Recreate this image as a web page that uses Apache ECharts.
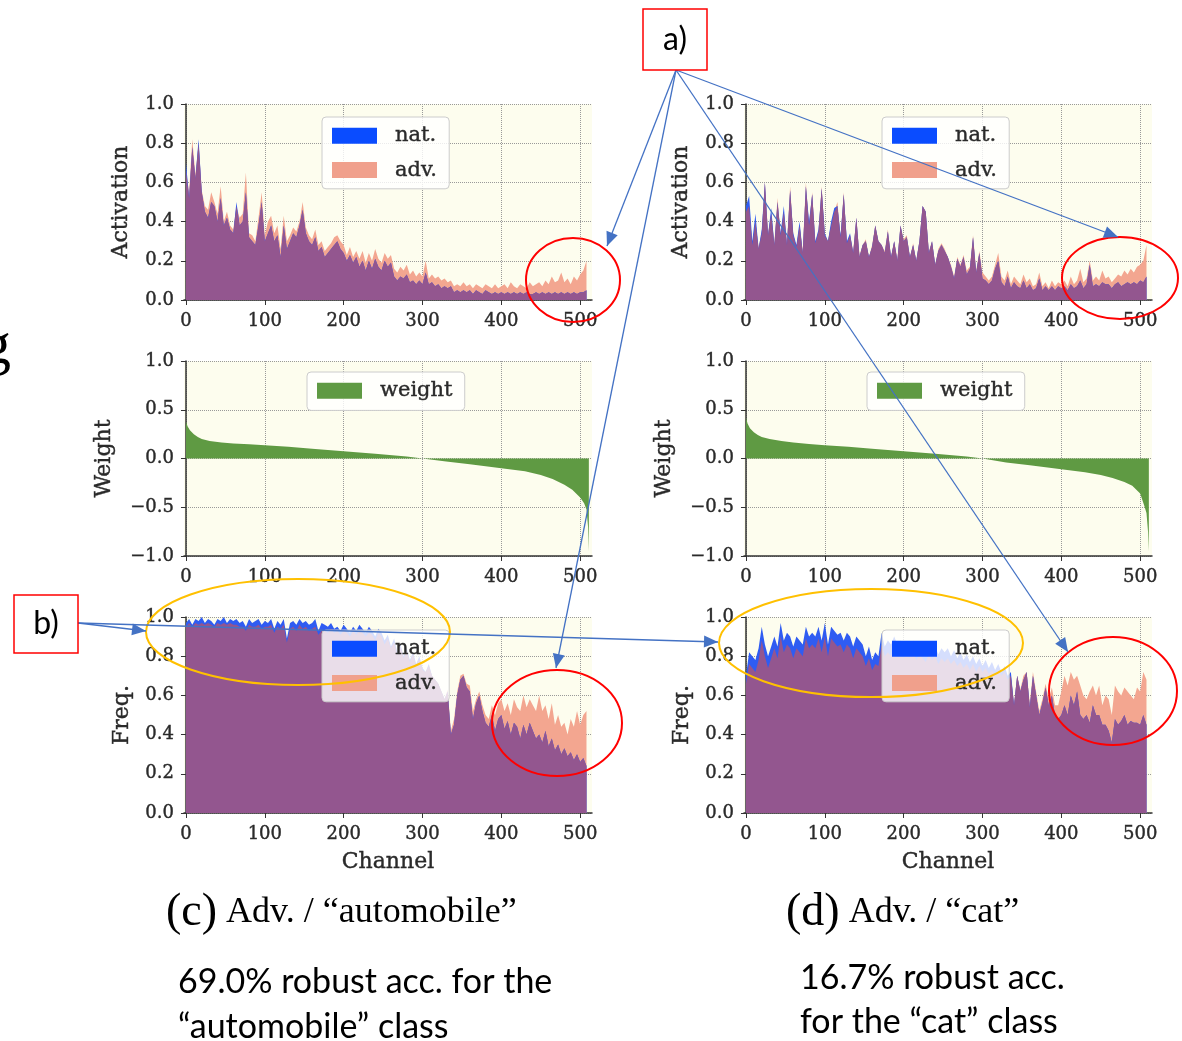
<!DOCTYPE html>
<html><head><meta charset="utf-8">
<script src="https://cdn.jsdelivr.net/npm/echarts@6/dist/echarts.min.js"></script>
<style>html,body{margin:0;padding:0;background:#fff;}#c{width:1182px;height:1041px;}</style>
</head><body><div id="c"></div>
<script>
// channel positions (every 4th channel of 512)
const CHANNELS = Array.from({length: 128}, (_, i) => i * 4);
const X_TICKS = [0, 100, 200, 300, 400, 500];

// (c) automobile — activation
const ACT_L_NAT = [
0.70,0.52,0.78,0.62,0.82,0.55,0.45,0.42,0.50,0.48,0.40,0.52,0.38,0.42,0.36,0.34,
0.50,0.38,0.40,0.55,0.32,0.30,0.28,0.38,0.50,0.30,0.34,0.38,0.30,0.33,0.22,0.38,
0.26,0.30,0.34,0.32,0.38,0.46,0.34,0.30,0.28,0.32,0.25,0.27,0.22,0.24,0.26,0.28,
0.30,0.26,0.24,0.20,0.23,0.19,0.22,0.17,0.20,0.15,0.20,0.16,0.21,0.17,0.15,0.20,
0.17,0.19,0.12,0.10,0.12,0.11,0.13,0.09,0.10,0.08,0.10,0.08,0.14,0.08,0.09,0.07,
0.08,0.06,0.07,0.06,0.07,0.04,0.05,0.04,0.05,0.04,0.05,0.03,0.05,0.04,0.03,0.05,
0.04,0.03,0.04,0.03,0.04,0.03,0.04,0.03,0.04,0.03,0.04,0.03,0.04,0.03,0.03,0.04,
0.03,0.04,0.03,0.04,0.03,0.04,0.03,0.04,0.03,0.04,0.03,0.04,0.03,0.04,0.04,0.05];
const ACT_L_ADV = [
0.66,0.55,0.82,0.64,0.80,0.56,0.48,0.46,0.55,0.50,0.44,0.58,0.40,0.45,0.38,0.36,
0.48,0.42,0.44,0.65,0.34,0.33,0.30,0.42,0.55,0.33,0.40,0.43,0.34,0.38,0.26,0.43,
0.30,0.33,0.37,0.35,0.40,0.50,0.37,0.33,0.31,0.36,0.28,0.30,0.25,0.27,0.29,0.32,
0.33,0.30,0.28,0.23,0.27,0.22,0.25,0.21,0.25,0.19,0.24,0.20,0.26,0.21,0.19,0.24,
0.21,0.23,0.16,0.14,0.17,0.15,0.18,0.13,0.15,0.12,0.14,0.12,0.20,0.11,0.13,0.11,
0.12,0.10,0.11,0.09,0.10,0.07,0.08,0.07,0.09,0.07,0.08,0.06,0.08,0.07,0.06,0.08,
0.07,0.06,0.08,0.06,0.07,0.08,0.06,0.09,0.07,0.06,0.08,0.07,0.06,0.09,0.07,0.08,
0.09,0.07,0.10,0.08,0.12,0.09,0.10,0.14,0.09,0.11,0.08,0.12,0.10,0.13,0.15,0.20];

// (d) cat — activation
const ACT_R_NAT = [
0.48,0.53,0.30,0.44,0.26,0.36,0.60,0.33,0.47,0.28,0.50,0.34,0.48,0.28,0.56,0.34,
0.28,0.40,0.24,0.58,0.40,0.54,0.30,0.36,0.57,0.34,0.30,0.40,0.47,0.48,0.33,0.54,
0.30,0.34,0.24,0.42,0.22,0.28,0.30,0.22,0.27,0.38,0.30,0.28,0.24,0.35,0.22,0.30,
0.20,0.38,0.30,0.32,0.22,0.28,0.20,0.30,0.48,0.45,0.24,0.30,0.18,0.25,0.28,0.25,
0.22,0.17,0.11,0.21,0.17,0.22,0.13,0.16,0.32,0.14,0.24,0.11,0.10,0.08,0.10,0.16,
0.20,0.09,0.07,0.12,0.06,0.09,0.07,0.06,0.10,0.06,0.08,0.05,0.06,0.11,0.05,0.07,
0.05,0.07,0.05,0.07,0.06,0.07,0.05,0.08,0.06,0.07,0.10,0.06,0.08,0.18,0.07,0.08,
0.07,0.09,0.08,0.08,0.06,0.08,0.09,0.07,0.08,0.09,0.08,0.09,0.08,0.10,0.09,0.12];
const ACT_R_ADV = [
0.45,0.48,0.28,0.40,0.27,0.34,0.60,0.34,0.44,0.29,0.52,0.33,0.45,0.29,0.58,0.33,
0.27,0.38,0.25,0.60,0.38,0.55,0.29,0.35,0.58,0.33,0.30,0.38,0.45,0.50,0.32,0.55,
0.29,0.33,0.25,0.42,0.23,0.28,0.31,0.22,0.28,0.38,0.30,0.28,0.25,0.36,0.22,0.30,
0.21,0.38,0.31,0.33,0.22,0.29,0.20,0.30,0.48,0.45,0.25,0.30,0.18,0.26,0.29,0.26,
0.22,0.18,0.12,0.22,0.18,0.23,0.15,0.17,0.33,0.15,0.25,0.14,0.12,0.10,0.12,0.18,
0.24,0.12,0.10,0.15,0.08,0.12,0.10,0.08,0.13,0.09,0.11,0.07,0.08,0.14,0.07,0.09,
0.06,0.10,0.07,0.09,0.08,0.10,0.07,0.12,0.08,0.10,0.16,0.09,0.11,0.20,0.10,0.12,
0.10,0.15,0.11,0.12,0.09,0.11,0.13,0.12,0.15,0.13,0.16,0.14,0.17,0.18,0.20,0.28];

// sorted classifier weights
const WEIGHT_CH = [0,2,5,10,15,20,30,45,60,80,100,130,160,200,240,280,300,330,360,400,430,450,465,480,490,500,505,508,510,511];
const WEIGHT_L = [0.38,0.33,0.29,0.25,0.22,0.20,0.18,0.165,0.155,0.145,0.135,0.12,0.10,0.075,0.05,0.02,0.0,-0.03,-0.06,-0.10,-0.13,-0.17,-0.21,-0.27,-0.32,-0.40,-0.46,-0.52,-0.70,-0.95];
const WEIGHT_R = [0.42,0.36,0.31,0.27,0.24,0.22,0.20,0.18,0.165,0.15,0.135,0.12,0.10,0.075,0.05,0.02,0.0,-0.04,-0.07,-0.11,-0.14,-0.17,-0.20,-0.24,-0.28,-0.36,-0.48,-0.56,-0.75,-0.95];

// activation frequency
const FREQ_L_NAT = [
0.97,0.99,0.96,0.99,0.98,1.00,0.97,0.99,0.98,0.96,0.99,0.98,1.00,0.97,0.99,0.98,
0.99,0.97,0.98,0.95,0.99,0.97,0.98,0.99,0.96,0.98,0.97,0.99,0.94,0.98,0.96,0.99,
0.89,0.97,0.98,0.96,0.99,0.97,0.98,0.96,0.97,0.99,0.93,0.97,0.96,0.95,0.97,0.94,
0.95,0.93,0.96,0.94,0.92,0.95,0.93,0.96,0.94,0.92,0.95,0.93,0.90,0.94,0.92,0.88,
0.91,0.85,0.89,0.82,0.86,0.80,0.84,0.78,0.82,0.76,0.80,0.74,0.72,0.76,0.70,0.68,
0.66,0.62,0.58,0.62,0.40,0.45,0.60,0.68,0.70,0.64,0.62,0.48,0.56,0.60,0.52,0.46,
0.44,0.50,0.42,0.48,0.50,0.43,0.47,0.40,0.46,0.44,0.38,0.45,0.40,0.46,0.42,0.38,
0.40,0.36,0.42,0.34,0.38,0.32,0.35,0.30,0.33,0.29,0.31,0.27,0.30,0.26,0.28,0.24];
const FREQ_L_ADV = [
0.95,0.97,0.95,0.97,0.96,0.97,0.96,0.97,0.96,0.95,0.97,0.96,0.97,0.96,0.97,0.96,
0.96,0.95,0.95,0.93,0.96,0.95,0.95,0.96,0.94,0.95,0.95,0.96,0.92,0.95,0.94,0.96,
0.87,0.94,0.95,0.93,0.96,0.94,0.95,0.93,0.94,0.95,0.91,0.93,0.93,0.92,0.94,0.92,
0.93,0.91,0.93,0.92,0.90,0.93,0.91,0.93,0.92,0.90,0.92,0.91,0.88,0.92,0.90,0.86,
0.89,0.84,0.87,0.81,0.85,0.79,0.83,0.77,0.81,0.75,0.79,0.73,0.72,0.75,0.70,0.68,
0.66,0.62,0.58,0.63,0.42,0.48,0.62,0.70,0.71,0.66,0.65,0.52,0.58,0.62,0.55,0.50,
0.48,0.55,0.50,0.56,0.58,0.52,0.56,0.50,0.58,0.54,0.52,0.60,0.54,0.58,0.55,0.52,
0.60,0.52,0.55,0.48,0.56,0.45,0.50,0.44,0.46,0.40,0.48,0.44,0.52,0.45,0.50,0.52];
const FREQ_R_NAT = [
0.70,0.82,0.80,0.78,0.84,0.95,0.86,0.80,0.85,0.90,0.85,0.97,0.88,0.92,0.90,0.85,
0.90,0.88,0.86,0.95,0.90,0.92,0.90,0.95,0.88,0.97,0.86,0.95,0.93,0.91,0.92,0.88,
0.92,0.90,0.85,0.90,0.88,0.86,0.80,0.85,0.78,0.82,0.80,0.92,0.85,0.88,0.86,0.90,
0.86,0.88,0.84,0.87,0.85,0.88,0.83,0.86,0.84,0.82,0.86,0.83,0.85,0.81,0.84,0.82,
0.84,0.80,0.83,0.79,0.82,0.78,0.81,0.77,0.80,0.76,0.79,0.75,0.78,0.74,0.77,0.73,
0.76,0.72,0.75,0.70,0.72,0.55,0.70,0.62,0.68,0.72,0.54,0.70,0.60,0.50,0.56,0.64,
0.55,0.60,0.50,0.48,0.50,0.55,0.50,0.60,0.55,0.62,0.50,0.48,0.50,0.46,0.55,0.50,
0.50,0.45,0.45,0.42,0.36,0.48,0.45,0.47,0.50,0.45,0.47,0.46,0.46,0.45,0.50,0.45];
const FREQ_R_ADV = [
0.66,0.76,0.74,0.72,0.78,0.88,0.80,0.74,0.79,0.84,0.79,0.90,0.82,0.86,0.84,0.79,
0.84,0.82,0.80,0.89,0.84,0.86,0.84,0.89,0.82,0.90,0.80,0.89,0.87,0.85,0.86,0.82,
0.86,0.84,0.79,0.84,0.82,0.80,0.75,0.79,0.73,0.76,0.75,0.86,0.80,0.82,0.80,0.84,
0.81,0.83,0.79,0.82,0.80,0.83,0.78,0.81,0.79,0.77,0.81,0.78,0.80,0.76,0.79,0.77,
0.79,0.76,0.78,0.75,0.77,0.74,0.76,0.73,0.76,0.72,0.75,0.72,0.74,0.71,0.73,0.70,
0.73,0.70,0.72,0.68,0.70,0.56,0.70,0.63,0.70,0.72,0.56,0.72,0.62,0.52,0.58,0.66,
0.58,0.64,0.55,0.55,0.62,0.70,0.65,0.72,0.68,0.70,0.65,0.60,0.58,0.62,0.65,0.60,
0.65,0.55,0.60,0.58,0.50,0.65,0.62,0.60,0.64,0.62,0.60,0.58,0.64,0.62,0.72,0.68];

const NAT_C = '#2f5cf2', ADV_C = '#f3a690', MIX_C = '#93568f', W_C = '#5f9a43';
const BG = '#fdfdee';
const SERIF = '"DejaVu Serif", serif';
const TXT = '#2a2a2a';
const MINUS = v => (v < 0 ? '\u2212' : '') + Math.abs(v).toFixed(1);

const GRIDS = [
  {left:184, top:104, width:408, height:196},
  {left:744, top:104, width:408, height:196},
  {left:184, top:361, width:408, height:195},
  {left:744, top:361, width:408, height:195},
  {left:184, top:617, width:408, height:196},
  {left:744, top:617, width:408, height:196}
];
const YRANGE = [[0,1,0.2],[0,1,0.2],[-1,1,0.5],[-1,1,0.5],[0,1,0.2],[0,1,0.2]];
const YNAME = ['Activation','Activation','Weight','Weight','Freq.','Freq.'];
const YGAP = [52,52,69,69,51,51];
const LBL = {fontFamily:SERIF, fontSize:18, color:TXT, textBorderColor:TXT, textBorderWidth:0.4};
const NAMESTYLE = {fontFamily:SERIF, fontSize:22, color:TXT, textBorderColor:TXT, textBorderWidth:0.4};

const grid = GRIDS.map(g => Object.assign({show:true, backgroundColor:BG, borderWidth:0}, g));
const xAxis = GRIDS.map((g, i) => ({
  type:'value', gridIndex:i, min:-2.5, max:515,
  name: i >= 4 ? 'Channel' : '', nameLocation:'middle', nameGap:38,
  nameTextStyle:NAMESTYLE,
  axisLine:{show:true, onZero:false, lineStyle:{color:'#333', width:1.5}},
  axisTick:{show:true, customValues:X_TICKS, length:5, lineStyle:{color:'#333'}},
  axisLabel:Object.assign({customValues:X_TICKS, margin:12}, LBL),
  splitLine:{show:true, lineStyle:{type:'dotted', color:'#999', width:1}}
}));
const yAxis = GRIDS.map((g, i) => ({
  type:'value', gridIndex:i, min:YRANGE[i][0], max:YRANGE[i][1], interval:YRANGE[i][2],
  name:YNAME[i], nameLocation:'middle', nameGap:YGAP[i], nameRotate:90,
  nameTextStyle:NAMESTYLE,
  axisLine:{show:true, lineStyle:{color:'#333', width:1.5}},
  axisTick:{show:true, length:5, lineStyle:{color:'#333'}},
  axisLabel:Object.assign({formatter:MINUS, margin:10}, LBL),
  splitLine:{show:true, lineStyle:{type:'dotted', color:'#999', width:1}}
}));

function area(name, idx, xs, ys, color, z) {
  return {
    type:'line', name, xAxisIndex:idx, yAxisIndex:idx,
    data: xs.map((x, k) => [x, ys[k]]),
    showSymbol:false, symbol:'none', silent:true, z,
    lineStyle:{width:0, color}, itemStyle:{color},
    areaStyle:{color, opacity:1}
  };
}
const PAIRS = [
  [0, ACT_L_NAT, ACT_L_ADV], [1, ACT_R_NAT, ACT_R_ADV],
  [4, FREQ_L_NAT, FREQ_L_ADV], [5, FREQ_R_NAT, FREQ_R_ADV]
];
const series = [];
PAIRS.forEach(([idx, nat, adv]) => {
  series.push(area('adv.', idx, CHANNELS, adv, ADV_C, 1));
  series.push(area('nat.', idx, CHANNELS, nat, NAT_C, 2));
  series.push(area('both', idx, CHANNELS, nat.map((v, k) => Math.min(v, adv[k])), MIX_C, 3));
});
series.push(area('weight', 2, WEIGHT_CH, WEIGHT_L, W_C, 2));
series.push(area('weight', 3, WEIGHT_CH, WEIGHT_R, W_C, 2));

function lg(left, top, names, pad) {
  return {
    left, top, orient:'vertical', selectedMode:false, z:50,
    data: names.map(n => ({name:n, icon:'rect',
      itemStyle:{color: n === 'nat.' ? '#0a4cff' : n === 'adv.' ? '#f0a08c' : W_C}})),
    itemWidth:45, itemHeight:16, itemGap:13, padding:pad,
    backgroundColor:'rgba(255,255,255,0.8)', borderColor:'#cccccc', borderWidth:1, borderRadius:4,
    textStyle:{fontFamily:SERIF, fontSize:21, color:TXT, textBorderColor:TXT, textBorderWidth:0.4, padding:[0,0,0,13]}
  };
}
const legend = [
  lg(322, 117, ['nat.','adv.'], [8,12,8,10]),
  lg(882, 117, ['nat.','adv.'], [8,12,8,10]),
  lg(307, 372, ['weight'], [8,12,9,10]),
  lg(867, 372, ['weight'], [8,12,9,10]),
  lg(322, 630, ['nat.','adv.'], [8,12,8,10]),
  lg(882, 630, ['nat.','adv.'], [8,12,8,10])
];

// annotation overlay
const ARROW_C = '#4472c4';
function arrow(x1, y1, x2, y2, head) {
  const out = [{type:'line', z:100, shape:{x1, y1, x2, y2}, style:{stroke:ARROW_C, lineWidth:1.3}}];
  if (head) {
    const a = Math.atan2(y2 - y1, x2 - x1), L = 14, W = 6;
    const bx = x2 - L * Math.cos(a), by = y2 - L * Math.sin(a);
    out.push({type:'polygon', z:101, shape:{points:[[x2, y2],
      [bx + W * Math.sin(a), by - W * Math.cos(a)], [bx - W * Math.sin(a), by + W * Math.cos(a)]]},
      style:{fill:ARROW_C}});
  }
  return out;
}
function ell(cx, cy, rx, ry, color) {
  return {type:'ellipse', z:90, shape:{cx, cy, rx, ry}, style:{fill:null, stroke:color, lineWidth:2}};
}
const CAL = '"Lato", "Open Sans", sans-serif';
const TIMES = '"Liberation Serif", serif';
const graphic = [
  ell(573, 280, 47, 42, '#ff0000'),
  ell(1120, 278, 58, 41, '#ff0000'),
  ell(557, 723, 65, 53, '#ff0000'),
  ell(1113, 691, 64, 54, '#ff0000'),
  ell(298, 632, 152, 53, '#ffc000'),
  ell(871, 643, 152, 54, '#ffc000'),
  ...arrow(676, 70, 607, 246, true),
  ...arrow(676, 70, 556, 668, true),
  ...arrow(676, 70, 1118, 237, true),
  ...arrow(676, 70, 1068, 652, true),
  ...arrow(78, 623, 146, 631, true),
  ...arrow(78, 623, 718, 642, true),
  {type:'rect', z:110, shape:{x:643, y:9, width:64, height:61}, style:{fill:'#fff', stroke:'#ff0000', lineWidth:1.5}},
  {type:'text', z:111, x:675, y:40, style:{text:'a)', font:'32px ' + CAL, fill:'#000', align:'center', verticalAlign:'middle'}},
  {type:'rect', z:110, shape:{x:14, y:595, width:64, height:58}, style:{fill:'#fff', stroke:'#ff0000', lineWidth:1.5}},
  {type:'text', z:111, x:46, y:624, style:{text:'b)', font:'32px ' + CAL, fill:'#000', align:'center', verticalAlign:'middle'}},
  {type:'text', z:111, x:-19, y:317, style:{text:'g', font:'60px ' + TIMES, fill:'#000', verticalAlign:'top'}},
  {type:'text', z:111, x:166, y:913, style:{
    text:'{b|(c)}{s| Adv. / \u201cautomobile\u201d}', verticalAlign:'middle',
    rich:{b:{fontFamily:TIMES, fontSize:46, fill:'#000'}, s:{fontFamily:TIMES, fontSize:36, fill:'#000'}}}},
  {type:'text', z:111, x:786, y:913, style:{
    text:'{b|(d)}{s| Adv. / \u201ccat\u201d}', verticalAlign:'middle',
    rich:{b:{fontFamily:TIMES, fontSize:46, fill:'#000'}, s:{fontFamily:TIMES, fontSize:36, fill:'#000'}}}},
  {type:'text', z:111, x:178, y:982, style:{text:'69.0% robust acc. for the', font:'34px ' + CAL, fill:'#000', verticalAlign:'middle'}},
  {type:'text', z:111, x:178, y:1027, style:{text:'\u201cautomobile\u201d class', font:'34px ' + CAL, fill:'#000', verticalAlign:'middle'}},
  {type:'text', z:111, x:800, y:978, style:{text:'16.7% robust acc.', font:'34px ' + CAL, fill:'#000', verticalAlign:'middle'}},
  {type:'text', z:111, x:800, y:1022, style:{text:'for the \u201ccat\u201d class', font:'34px ' + CAL, fill:'#000', verticalAlign:'middle'}}
];

const chart = echarts.init(document.getElementById('c'), null, {renderer:'canvas'});
chart.setOption({
  backgroundColor:'#ffffff', animation:false,
  grid, xAxis, yAxis, series, legend, graphic
});
</script></body></html>
